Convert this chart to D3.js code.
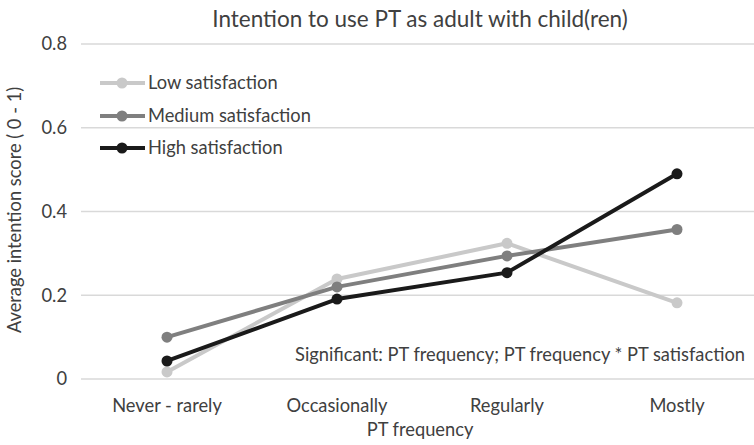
<!DOCTYPE html>
<html><head><meta charset="utf-8">
<script src="https://cdn.jsdelivr.net/npm/d3@7"></script>
<style>body{margin:0;background:#fff;} text{font-family:Lato,"Open Sans",sans-serif;fill:#404040;}</style>
</head><body>
<svg id="c" width="754" height="445"></svg>
<script>
const categories = ["Never - rarely","Occasionally","Regularly","Mostly"];
const lowSatisfaction = [0.017, 0.239, 0.324, 0.182];
const mediumSatisfaction = [0.100, 0.220, 0.294, 0.357];
const highSatisfaction = [0.043, 0.191, 0.254, 0.490];
const yTicks = [0, 0.2, 0.4, 0.6, 0.8];
const seriesNames = ["Low satisfaction","Medium satisfaction","High satisfaction"];
const seriesColors = ["#c9c9c9","#7f7f7f","#1a1a1a"];
const series = [lowSatisfaction, mediumSatisfaction, highSatisfaction];

const svg = d3.select("#c");
const x = d3.scaleBand().domain(categories).range([82, 762]);
const y = d3.scaleLinear().domain([0, 0.8]).range([379, 44]);
const cx = d => x(d) + x.bandwidth()/2;
const FS = 18.3;

// gridlines
svg.append("g").selectAll("line").data(yTicks).join("line")
  .attr("x1", 81).attr("x2", 754)
  .attr("y1", d => y(d)).attr("y2", d => y(d))
  .attr("stroke", "#d9d9d9").attr("stroke-width", 1.3);

// y tick labels
const yAxis = d3.axisLeft(y).tickValues(yTicks).tickFormat(d => d === 0 ? "0" : d3.format(".1f")(d)).tickSize(0).tickPadding(0);
const ya = svg.append("g").attr("transform", "translate(67,0)").call(yAxis);
ya.select(".domain").remove();
ya.selectAll("text").attr("font-size", FS).attr("font-family", "Lato").attr("fill", "#404040");

// x tick labels
const xAxis = d3.axisBottom(x).tickSize(0).tickPadding(0);
const xa = svg.append("g").attr("transform", "translate(0,412)").call(xAxis);
xa.select(".domain").remove();
xa.selectAll("text").attr("dy", 0).attr("font-size", FS).attr("font-family", "Lato").attr("fill", "#404040");

// lines
const line = d3.line().x((d,i) => cx(categories[i])).y(d => y(d));
series.forEach((s, k) => {
  svg.append("path").datum(s).attr("d", line).attr("fill", "none")
    .attr("stroke", seriesColors[k]).attr("stroke-width", 4).attr("stroke-linejoin", "round");
  svg.append("g").selectAll("circle").data(s).join("circle")
    .attr("cx", (d,i) => cx(categories[i])).attr("cy", d => y(d)).attr("r", 5.5)
    .attr("fill", seriesColors[k]);
});

// legend
const legY = [83, 116, 148];
seriesNames.forEach((n, k) => {
  svg.append("line").attr("x1", 100).attr("x2", 145).attr("y1", legY[k]).attr("y2", legY[k])
    .attr("stroke", seriesColors[k]).attr("stroke-width", 4);
  svg.append("circle").attr("cx", 122).attr("cy", legY[k]).attr("r", 5.5).attr("fill", seriesColors[k]);
  svg.append("text").attr("x", 148).attr("y", legY[k]).attr("dy", "0.35em").attr("font-size", FS).text(n);
});

// title
svg.append("text").attr("x", 420).attr("y", 27).attr("text-anchor", "middle").attr("font-size", 22.5)
  .text("Intention to use PT as adult with child(ren)");

// axis titles
svg.append("text").attr("x", 420).attr("y", 436).attr("text-anchor", "middle").attr("font-size", FS).text("PT frequency");
svg.append("text").attr("transform", "translate(21,210) rotate(-90)").attr("text-anchor", "middle").attr("font-size", FS)
  .text("Average intention score ( 0 - 1)");

// annotation
svg.append("text").attr("x", 745).attr("y", 361).attr("text-anchor", "end").attr("font-size", FS)
  .text("Significant: PT frequency; PT frequency * PT satisfaction");
</script>
</body></html>
